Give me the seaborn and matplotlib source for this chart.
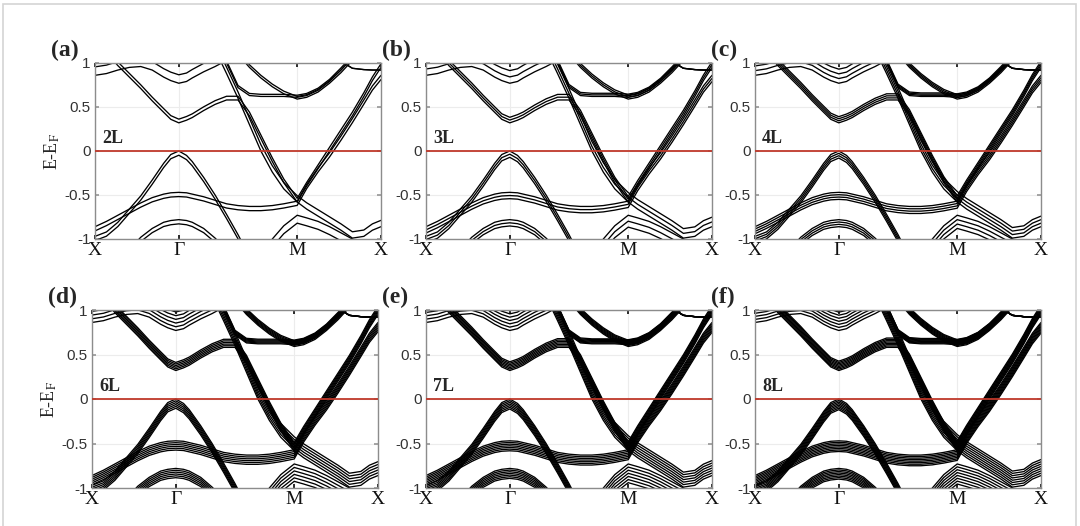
import matplotlib
matplotlib.use("Agg")
import matplotlib.pyplot as plt
from matplotlib.patches import Rectangle
import numpy as np
import pandas as pd
import seaborn as sns

# k-path positions (fraction of X-Γ-M-X path)
k_path = [0.0, 0.04, 0.08, 0.12, 0.16, 0.20, 0.24, 0.265, 0.293, 0.32, 0.34, 0.38, 0.42, 0.46,
          0.50, 0.54, 0.58, 0.62, 0.66, 0.707, 0.74, 0.78, 0.82, 0.86, 0.90, 0.94, 0.97, 1.0]
k_ticks = [0.0, 0.293, 0.707, 1.0]
k_labels = ["X", "Γ", "M", "X"]
e_ticks = [-1, -0.5, 0, 0.5, 1]
e_labels = ["-1", "-0.5", "0", "0.5", "1"]

layers = [2, 3, 4, 6, 7, 8]
# how wide the layer bundles fan out in each panel, relative to band_spread
bundle_scale = [0.6, 0.9, 1.0, 1.3, 1.4, 1.5]
panel_tags = ["(a)", "(b)", "(c)", "(d)", "(e)", "(f)"]

# band energies (E - E_F, eV) on k_path
vb_top = [-0.97, -0.92, -0.81, -0.66, -0.51, -0.33, -0.14, -0.04, 0.0, -0.05, -0.12, -0.3, -0.5, -0.72,
          -0.95, -1.2, -1.4, -1.5, -1.5, -1.5, -1.5, -1.5, -1.5, -1.5, -1.5, -1.5, -1.5, -1.5]
vb_hump = [-0.86, -0.8, -0.73, -0.66, -0.59, -0.53, -0.49, -0.475, -0.47, -0.475, -0.49, -0.52, -0.56, -0.6,
           -0.62, -0.63, -0.63, -0.62, -0.6, -0.57, -0.38, -0.19, -0.02, 0.17, 0.37, 0.58, 0.74, 0.86]
cb_steep = [1.5, 1.5, 1.5, 1.5, 1.5, 1.5, 1.5, 1.5, 1.5, 1.5, 1.5, 1.5, 1.15, 0.88,
            0.6, 0.3, 0.0, -0.24, -0.43, -0.58, -0.66, -0.74, -0.82, -0.9, -0.99, -0.97, -0.9, -0.86]
cb_low = [1.3, 1.12, 0.97, 0.84, 0.71, 0.57, 0.44, 0.36, 0.32, 0.35, 0.38, 0.46, 0.53, 0.58,
          0.58, 0.4, 0.14, -0.12, -0.36, -0.58, -0.4, -0.2, 0.0, 0.2, 0.4, 0.62, 0.8, 0.95]
flat_06 = [1.6, 1.6, 1.6, 1.6, 1.6, 1.6, 1.6, 1.6, 1.6, 1.6, 1.6, 1.6, 1.3, 1.0,
           0.72, 0.63, 0.62, 0.62, 0.62, 0.61, 0.63, 0.69, 0.79, 0.92, 1.06, 1.2, 1.3, 1.4]
m_pocket = [1.5, 1.5, 1.5, 1.5, 1.5, 1.5, 1.5, 1.5, 1.5, 1.5, 1.5, 1.5, 1.5, 1.3,
            1.1, 0.95, 0.83, 0.73, 0.65, 0.59, 0.61, 0.67, 0.77, 0.89, 1.03, 1.18, 1.3, 1.4]
top_flat = [1.5, 1.5, 1.5, 1.5, 1.5, 1.5, 1.5, 1.5, 1.5, 1.5, 1.5, 1.5, 1.5, 1.5,
            1.5, 1.5, 1.5, 1.5, 1.5, 1.5, 1.5, 1.5, 1.3, 1.02, 0.94, 0.925, 0.92, 0.92]
cb_upper = [0.86, 0.88, 0.92, 0.95, 0.96, 0.92, 0.84, 0.8, 0.77, 0.79, 0.83, 0.9, 0.96, 1.03,
            1.12, 1.2, 1.3, 1.5, 1.5, 1.5, 1.5, 1.5, 1.5, 1.5, 1.5, 1.5, 1.5, 1.5]
vb_low = [-1.5, -1.5, -1.3, -1.12, -0.98, -0.88, -0.81, -0.79, -0.78, -0.79, -0.81, -0.88, -0.99, -1.12,
          -1.3, -1.5, -1.5, -1.5, -1.5, -1.5, -1.5, -1.5, -1.5, -1.5, -1.5, -1.5, -1.5, -1.5]
m_low = [-1.5, -1.5, -1.5, -1.5, -1.5, -1.5, -1.5, -1.5, -1.5, -1.5, -1.5, -1.5, -1.5, -1.5,
         -1.5, -1.4, -1.2, -1.0, -0.85, -0.73, -0.76, -0.8, -0.86, -0.93, -1.0, -1.08, -1.15, -1.2]

bands = [vb_top, vb_hump, cb_steep, cb_low, flat_06, m_pocket, top_flat, cb_upper, vb_low, m_low]
# total energy width over which the layer copies of each band fan out
band_spread = [-0.08, -0.08, 0.12, 0.07, 0.04, 0.05, 0.0, 0.16, -0.08, -0.15]


def band_frame(n_layers, scale):
    rows = []
    for b, (energies, spread) in enumerate(zip(bands, band_spread)):
        for i in range(n_layers):
            shift = scale * spread * i / (n_layers - 1)
            for kk, e in zip(k_path, energies):
                rows.append((kk, e + shift, f"{b}-{i}"))
    return pd.DataFrame(rows, columns=["k", "E", "line"])


sns.set_theme(style="white")
plt.rcParams["font.family"] = ["Liberation Sans", "DejaVu Sans"]
plt.rcParams["mathtext.fontset"] = "stix"

W, H = 1080, 526
fig = plt.figure(figsize=(W / 100, H / 100), dpi=100)
fig.patches.append(Rectangle((3 / W, -0.02), 1073 / W, 1 - 4 / H + 0.02, transform=fig.transFigure,
                             fill=False, edgecolor="#d4d4d4", lw=1.2))

col_left = [[95, 426, 755], [92, 426, 755]]
row_top = [63, 310]
row_h = [176, 178]
ax_w = 286

for p in range(6):
    r, c = divmod(p, 3)
    left = col_left[r][c]
    ax = fig.add_axes([left / W, 1 - (row_top[r] + row_h[r]) / H, ax_w / W, row_h[r] / H])
    df = band_frame(layers[p], bundle_scale[p])
    sns.lineplot(data=df, x="k", y="E", units="line", estimator=None, sort=False,
                 color="black", lw=0.95, ax=ax, legend=False)
    ax.axhline(0, color="#c0392b", lw=1.3, zorder=5)
    ax.set_xlim(0, 1)
    ax.set_ylim(-1, 1)
    ax.set_xticks(k_ticks)
    ax.set_xticklabels(k_labels, family="Liberation Serif", fontsize=14)
    ax.set_yticks(e_ticks)
    ax.set_yticklabels(e_labels, fontsize=11, color="#333333")
    ax.grid(True, color="#ececec", lw=0.8)
    ax.tick_params(direction="in", length=3, color="#999999", top=True, right=True,
                   bottom=True, left=True, pad=3)
    ax.tick_params(axis="x", pad=2, colors="#111111")
    for s in ax.spines.values():
        s.set_color("#8c8c8c")
        s.set_linewidth(1.0)
    ax.set_xlabel("")
    if c == 0:
        ax.set_ylabel(r"E-E$_{\mathrm{F}}$", family="Liberation Serif", fontsize=13, labelpad=2)
    else:
        ax.set_ylabel("")
    ax.text(0.025, 0.05, f"{layers[p]}L", transform=ax.get_yaxis_transform(), fontsize=13,
            family="Liberation Serif", weight="bold", va="bottom", ha="left")
    ax.text(-0.155, 1.01, panel_tags[p], transform=ax.transAxes, fontsize=17,
            family="Liberation Serif", weight="bold", va="bottom", ha="left")

fig.savefig("out.png", dpi=100)
